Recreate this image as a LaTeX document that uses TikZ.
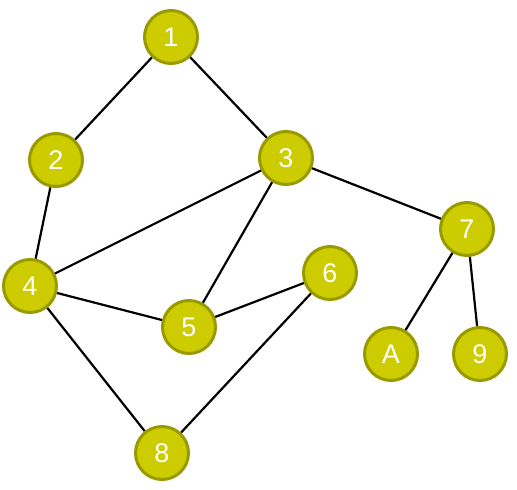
\documentclass[tikz,border=0pt]{standalone}
\usepackage{fontspec}
\setmainfont{Liberation Sans}
\definecolor{vfill}{RGB}{204,204,0}
\definecolor{vdraw}{RGB}{153,153,0}
\begin{document}
\begin{tikzpicture}[x=1pt, y=-1pt,
  vertex/.style={circle, draw=vdraw, fill=vfill, line width=3pt, minimum size=53pt, inner sep=0pt, text=white, font=\fontsize{27}{30}\selectfont},
  edge/.style={black, line width=2.2pt}]
\useasboundingbox (0,0) rectangle (517,490);
\node[vertex] (n1) at (171,37) {1};
\node[vertex] (n2) at (56,160) {2};
\node[vertex] (n3) at (286,158) {3};
\node[vertex] (n4) at (30,286) {4};
\node[vertex] (n5) at (189,327) {5};
\node[vertex] (n6) at (330,273) {6};
\node[vertex] (n7) at (467,229) {7};
\node[vertex] (n8) at (162,453) {8};
\node[vertex] (nA) at (391,354) {A};
\node[vertex] (n9) at (480,354) {9};
\draw[edge] (n1) -- (n2);
\draw[edge] (n1) -- (n3);
\draw[edge] (n2) -- (n4);
\draw[edge] (n3) -- (n4);
\draw[edge] (n3) -- (n5);
\draw[edge] (n3) -- (n7);
\draw[edge] (n4) -- (n5);
\draw[edge] (n4) -- (n8);
\draw[edge] (n5) -- (n6);
\draw[edge] (n6) -- (n8);
\draw[edge] (n7) -- (nA);
\draw[edge] (n7) -- (n9);
\end{tikzpicture}
\end{document}
